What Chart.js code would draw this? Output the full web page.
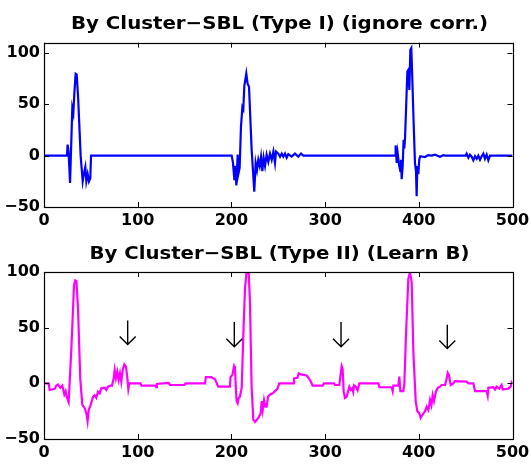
<!DOCTYPE html>
<html><head><meta charset="utf-8">
<script src="https://cdn.jsdelivr.net/npm/chart.js@4"></script>
<style>
html,body{margin:0;padding:0;background:#fff;}
#wrap{position:relative;width:531px;height:464px;overflow:hidden;}
canvas{position:absolute;left:0;}
</style></head><body>
<div id="wrap">
<canvas id="c1" width="531" height="232" style="top:0"></canvas>
<canvas id="c2" width="531" height="232" style="top:232px"></canvas>
</div>
<script>
// ---- data ----
const titleTop = "By Cluster\u2212SBL (Type I) (ignore corr.)";
const titleBottom = "By Cluster\u2212SBL (Type II) (Learn B)";
const xTicks = [0, 100, 200, 300, 400, 500];
const yTicksTop = [-50, 0, 50, 100];
const yTicksBottom = [-50, 0, 50, 100];

const topX = [0,24.5,25.2,26.2,27.8,30.2,31.3,32.4,33.8,34.9,36.5,39.1,41.3,42.7,44.1,45.2,46.6,48,49.4,50.2,
  199.5,200.3,201.7,203.1,203.8,205.3,206.7,207.4,208.8,210.2,211.7,212.7,213.8,215.9,217.3,218.8,221.6,224.4,225.9,227.3,
  228.7,230.2,231.6,233,234.4,235.9,237.6,239.4,241.2,243,244.8,246.5,247.6,250.1,251.9,253.7,255.4,257.2,259,260.7,
  264.3,267.9,271.4,274.3,276.8,374.6,375.3,376.4,377.4,378.9,380.3,381,381.7,382.8,383.8,384.5,385.3,387.8,388.8,389.9,
  391,392,393.1,394.5,395.9,397,397.7,398.4,399.5,400.5,401.6,406.6,410,413.8,417.3,420,422.6,426.2,428,450,451.1,
  452.9,454.6,456.4,458.2,460,461.8,463.5,465.3,467.1,468.9,470.6,472.4,474.2,476,500];
const topY = [0,0,10.7,4,-26.6,46.3,41.5,61,79.7,79,55,0,-25,-17,-11,-25,-18,-25,-22,0,
  0,0,-7,-23,-10,-29,1,-18,-12,28,47,45,68,80,70,67,6,-35,-7,-14,
  -4,-10,-1,-15,-2,-10,1,-6,2,-4,4,-7,4,2,-1,2,-1,2,-2,1.5,
  -1,2,-1,2,0,0,10,-7,2.6,-9,-15,-4,-23,-10,15.5,7,17,82,83.5,64,
  103,104.6,74,31.7,-7,-15,-39.5,-10,-18,-4,-0.6,-1.3,0.5,0,1,0,-1,0.5,0,0,2,
  -2,1,-1,-4.5,-0.5,-3,0,-4,-0.5,2,-3,1,-4.5,0,0];

const botX = [0,5,6,11.4,13.2,14.9,17.4,19.5,21.7,23.1,24.5,26.3,29.2,32,33.3,34.6,36.3,38.7,40.9,43.4,
  45.2,46.5,47.7,49.5,52.3,54.1,55.8,57.6,59.4,61.1,64.7,66.5,68.3,70.8,72.6,74.4,75.4,76.8,78.2,79.7,
  81.1,82.5,84,85.7,87.5,89,90,91,103,104,119,119.8,120.5,133,134.5,150,151,171.8,172.8,178.5,
  182.5,186,198.5,199,201,202.8,203.8,204.9,205.6,206.7,207.8,209.2,211,212.7,214.5,216.3,218.4,219.8,221.6,223.4,
  225.2,228.7,231.3,232.3,233.4,234.8,236.2,237.6,239.1,241.2,244.1,246.5,249,251.1,266,266.8,270.4,271.8,274,280.3,
  283.9,286.7,297.4,298.8,309.5,310.6,315.2,316.6,317.7,318.7,319.8,321.2,323,325.9,327.5,329,330,331,333,334.7,
  336.5,356.9,357.9,371,372.1,372.8,378.2,379.2,380.3,383.5,384.6,386.3,388.8,390.6,392.4,394.2,396.7,398.4,400.5,402,
  404.2,406.6,408.4,410.2,412,413.4,414.8,416.2,418.4,420.5,422.6,424.4,428,429.8,430.8,432.2,434,436.8,438.6,451.1,
  452.9,458.2,460,472.4,473.5,474.2,479.5,481.3,483.1,485.9,488.4,489.5,495.5,498,499.1,500];
const botY = [0,0,-6,-5,-2,-1,-4,-2,-10,-7,-13,-17,31,88,92.5,92,67,4,-19.4,-22.3,
  -26.8,-34,-24,-20,-12.2,-10.7,-13,-7.4,-9,-4.5,-4,-6,-3,-2,-2,4.5,12,4.5,10.4,3,
  9,1.5,12,17,15,4.5,-5,0,0,-2,-2,-3.5,-0.6,0.3,-1.5,-1.5,0,0,5.6,5.6,
  3.6,-3,-3,5.6,7.4,15.5,13.4,-7,-16,-17.9,-13,-11.9,-4,43,85,101,101,73,-4,-32.6,
  -34.7,-31,-26.8,-16,-24,-15,-21,-21,-12,-10,-9,-7,-5,0,0,4.5,5,9,8,7,
  3,-2,-2,0,0,-1.5,-1.5,8,15.5,13,-7,-13,-12,-3,-6,-4.5,-7.7,-1.8,-3.3,-6.2,
  0,0,-3.5,-3.5,-7,-2,-2,6,-7,-7,0,43,93.8,99.7,90.8,28,-16,-25,-26.8,-31,
  -28,-25,-21,-24,-15,-19.6,-10.7,-16,-7,-3.9,-3,-1.5,-1.5,4.5,9.5,7.4,-1.5,0,2,1.5,
  0,0,-7,-7,-11,-4,-3.5,-5.5,-3,-4.8,-1.5,-5.5,-4.8,-3,1,0];

// arrows (bottom panel): x position, top of shaft, tip (data units)
const arrowX = [89.3, 203.1, 317, 430.4];
const arrowTop = [56.5, 55, 55, 52.7];
const arrowTip = [34.8, 32.8, 32.8, 31.3];

// ---- drawing ----
const FONT = "'DejaVu Sans', Verdana, sans-serif";
function pts(xs, ys){ return xs.map((x,i)=>({x:x, y:ys[i]})); }

const framePlugin = {
  id:'frame',
  afterDraw(chart){
    const {ctx, chartArea:a, scales} = chart;
    const x = scales.x, y = scales.y;
    ctx.save();
    ctx.strokeStyle = '#000';
    ctx.lineWidth = 1;
    ctx.beginPath();
    const L = 5;
    x.ticks.forEach(t=>{
      const px = Math.round(x.getPixelForValue(t.value)) + 0.5;
      ctx.moveTo(px, a.bottom); ctx.lineTo(px, a.bottom - L);
      ctx.moveTo(px, a.top); ctx.lineTo(px, a.top + L);
    });
    y.ticks.forEach(t=>{
      const py = Math.round(y.getPixelForValue(t.value)) + 0.5;
      ctx.moveTo(a.left, py); ctx.lineTo(a.left + L, py);
      ctx.moveTo(a.right, py); ctx.lineTo(a.right - L, py);
    });
    ctx.stroke();
    ctx.lineWidth = 1.2;
    ctx.strokeRect(Math.round(a.left)+0.5, Math.round(a.top)+0.5, Math.round(a.right-a.left), Math.round(a.bottom-a.top));
    // title, fitted to the reference width
    const tt = chart.options.plugins.frame;
    ctx.fillStyle = '#000';
    ctx.font = 'bold 18px ' + FONT;
    ctx.textAlign = 'center';
    ctx.textBaseline = 'alphabetic';
    const w = ctx.measureText(tt.title).width;
    const sx = tt.width / w;
    ctx.translate(tt.tx, tt.ty);
    ctx.scale(sx, 1);
    ctx.fillText(tt.title, 0, 0);
    ctx.restore();
  }
};

const arrowPlugin = {
  id:'arrows',
  afterDatasetsDraw(chart){
    const o = chart.options.plugins.arrows;
    if (!o || !o.show) return;
    const {ctx, scales:{x,y}} = chart;
    ctx.save();
    ctx.strokeStyle = '#000';
    ctx.lineWidth = 1.4;
    ctx.beginPath();
    arrowX.forEach((ax,i)=>{
      const px = x.getPixelForValue(ax);
      const pTop = y.getPixelForValue(arrowTop[i]);
      const pTip = y.getPixelForValue(arrowTip[i]);
      ctx.moveTo(px, pTop); ctx.lineTo(px, pTip);
      ctx.moveTo(px - 8, pTip - 8); ctx.lineTo(px, pTip); ctx.lineTo(px + 8, pTip - 8);
    });
    ctx.stroke();
    ctx.restore();
  }
};

function makeChart(id, xs, ys, color, ymin, ymax, yTicks, title, titleW, padTop, titleY, arrows){
  return new Chart(document.getElementById(id), {
    type:'line',
    data:{ datasets:[{ data: pts(xs, ys), borderColor: color, borderWidth: 2.2, pointRadius: 0, tension: 0, fill:false }] },
    options:{
      responsive:false, animation:false,
      layout:{ padding:{ top: padTop, right: 18.5, left: 0, bottom: 0 } },
      plugins:{ legend:{display:false}, tooltip:{enabled:false}, title:{display:false},
        frame:{ title: title, tx: 279.5, ty: titleY, width: titleW }, arrows:{ show: arrows } },
      scales:{
        x:{ type:'linear', min:0, max:500,
          afterBuildTicks(s){ s.ticks = xTicks.map(v=>({value:v})); },
          afterFit(s){ s.height = 25; s.paddingLeft = 0; s.paddingRight = 0; },
          grid:{ display:false, drawTicks:false }, border:{ display:false },
          ticks:{ color:'#000', padding:4, maxRotation:0, autoSkip:false, font:{ family:FONT, size:16, weight:'bold' },
            callback:(v)=>String(v) } },
        y:{ type:'linear', min:ymin, max:ymax,
          afterBuildTicks(s){ s.ticks = yTicks.map(v=>({value:v})); },
          afterFit(s){ s.width = 44; s.paddingTop = 0; s.paddingBottom = 0; },
          grid:{ display:false, drawTicks:false }, border:{ display:false },
          ticks:{ color:'#000', padding:4, autoSkip:false, font:{ family:FONT, size:16, weight:'bold' },
            callback:(v)=>String(v).replace('-', '\u2212') } }
      }
    },
    plugins:[framePlugin, arrowPlugin]
  });
}

makeChart('c1', topX, topY, '#0000ff', -50, 110, yTicksTop, titleTop, 417, 42.7, 28.5, false);
makeChart('c2', botX, botY, '#ff00ff', -50, 100, yTicksBottom, titleBottom, 380, 40, 26.5, true);
</script>
</body></html>
